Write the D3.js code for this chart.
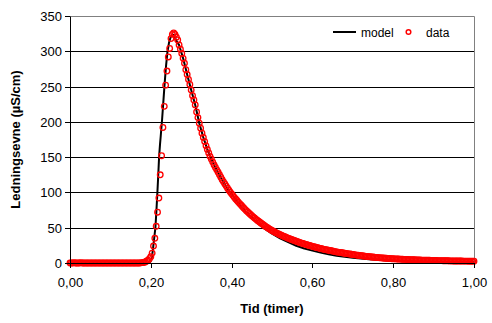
<!DOCTYPE html>
<html><head><meta charset="utf-8">
<script src="https://cdn.jsdelivr.net/npm/d3@7"></script>
<style>
body{margin:0;background:#fff}
svg{display:block}
text{font-family:"Liberation Sans",Arial,sans-serif;fill:#000}
</style>
</head><body><svg id="c" width="492" height="323"></svg>
<script>
// measured data: time in seconds, conductivity in µS/cm
const timeSec = [
0,12,24,36,48,60,72,84,96,108,
120,132,144,156,168,180,192,204,216,228,
240,252,264,276,288,300,312,324,336,348,
360,372,384,396,408,420,432,444,456,468,
480,492,504,516,528,540,552,564,576,588,
600,612,624,636,648,660,672,684,696,708,
720,732,744,756,768,780,792,804,816,828,
840,852,864,876,888,900,912,924,936,948,
960,972,984,996,1008,1020,1032,1044,1056,1068,
1080,1092,1104,1116,1128,1140,1152,1164,1176,1188,
1200,1212,1224,1236,1248,1260,1272,1284,1296,1308,
1320,1332,1344,1356,1368,1380,1392,1404,1416,1428,
1440,1452,1464,1476,1488,1500,1512,1524,1536,1548,
1560,1572,1584,1596,1608,1620,1632,1644,1656,1668,
1680,1692,1704,1716,1728,1740,1752,1764,1776,1788,
1800,1812,1824,1836,1848,1860,1872,1884,1896,1908,
1920,1932,1944,1956,1968,1980,1992,2004,2016,2028,
2040,2052,2064,2076,2088,2100,2112,2124,2136,2148,
2160,2172,2184,2196,2208,2220,2232,2244,2256,2268,
2280,2292,2304,2316,2328,2340,2352,2364,2376,2388,
2400,2412,2424,2436,2448,2460,2472,2484,2496,2508,
2520,2532,2544,2556,2568,2580,2592,2604,2616,2628,
2640,2652,2664,2676,2688,2700,2712,2724,2736,2748,
2760,2772,2784,2796,2808,2820,2832,2844,2856,2868,
2880,2892,2904,2916,2928,2940,2952,2964,2976,2988,
3000,3012,3024,3036,3048,3060,3072,3084,3096,3108,
3120,3132,3144,3156,3168,3180,3192,3204,3216,3228,
3240,3252,3264,3276,3288,3300,3312,3324,3336,3348,
3360,3372,3384,3396,3408,3420,3432,3444,3456,3468,
3480,3492,3504,3516,3528,3540,3552,3564,3576,3588,
3600];
const conductivity = [
0,0,0,0.5,0,0,0,0,0.5,0,
0,0,0,0,0,0,0,0,0,0,
0,0,0,0,0,0,0,0,0,0,
0,0,0,0,0,0,0,0,0,0,
0,0,0,0,0,0,0,0,0,0,
0,0,0,0.5,0.5,1,1.5,3,4,6,
9,14,24,35,52,72,92,125,152,192,
222,252,272,292,304,318,324,326,324,320,
316,309,303,297,290,283,274,267,260,253,
245,237,231,224,214,206,198,191,184,178,
172,166,161,156,151,147,143,139,135.5,132,
128.5,125,121.5,118,115,112,109,106,103,100.5,
98,95.5,93,90.8,88.5,86.3,84.2,82.1,80,78,
76,74.2,72.3,70.5,68.8,67,65.4,63.8,62.2,60.7,
59.2,57.7,56.3,54.9,53.5,52.2,50.9,49.6,48.4,47.2,
46,45,44,43,42,41.1,40.2,39.3,38.4,37.6,
36.8,36,35.2,34.4,33.6,32.9,32.2,31.5,30.8,30.1,
29.4,28.8,28.2,27.6,27,26.4,25.8,25.2,24.7,24.2,
23.6,23.1,22.6,22.1,21.6,21.1,20.6,20.1,19.7,19.3,
18.9,18.5,18.1,17.7,17.3,16.9,16.5,16.1,15.7,15.4,
15.1,14.8,14.5,14.2,13.9,13.6,13.3,13,12.7,12.4,
12.1,11.8,11.5,11.2,11,10.7,10.4,10.2,9.9,9.7,
9.4,9.2,9,8.8,8.6,8.4,8.2,8,7.8,7.6,
7.4,7.3,7.1,7,6.8,6.7,6.5,6.4,6.2,6.1,
6,5.9,5.8,5.7,5.6,5.5,5.4,5.3,5.2,5.1,
5,4.9,4.8,4.7,4.6,4.6,4.5,4.4,4.3,4.3,
4.2,4.1,4.1,4,3.9,3.9,3.8,3.8,3.7,3.6,
3.6,3.5,3.5,3.4,3.4,3.3,3.3,3.2,3.2,3.2,
3.1,3.1,3,3,3,2.9,2.9,2.9,2.8,2.8,
2.8,2.8,2.7,2.7,2.7,2.7,2.6,2.6,2.6,2.6,
2.6];
// model curve: time in hours, conductivity in µS/cm
const modelTime = [0,0.195,0.198,0.2,0.2023,0.205,0.208,0.2114,0.214,0.2163,0.2185,0.2205,0.2228,0.2246,0.2279,0.231,0.2337,0.2375,0.241,0.245,0.249,0.2535,0.257,0.261,0.265,
0.27,0.28,0.29,0.30,0.31,0.32,0.33,0.34,0.35,0.36,0.37,0.38,0.39,0.40,0.41,0.42,0.43,0.44,0.45,0.46,0.47,0.48,0.49,0.50,
0.52,0.54,0.56,0.58,0.60,0.62,0.64,0.66,0.68,0.70,0.72,0.74,0.76,0.78,0.80,0.85,0.90,0.95,1.00];
const modelValue = [0,0,1,3,7,18,33,50,75,100,125,150,168,180,203,228,250,278,298,312,320,324,323,318,313,
309,290,267,245,224,198,178,161,147,135,124.5,114.5,105.5,97.5,90,82.5,76,70,64.5,59,54,49.5,45.5,41.5,
35,29.5,24.5,20.5,17.5,14.7,12.3,10.4,8.8,7.4,6.3,5.3,4.5,3.8,3.3,2.3,1.6,1.2,0.9];

const xTicks = [0,0.2,0.4,0.6,0.8,1.0];
const yTicks = [0,50,100,150,200,250,300,350];
const xTitle = "Tid (timer)";
const yTitle = "Ledningsevne (µS/cm)";
const legendLabels = ["model","data"];

const svg = d3.select("#c");
const L = 70, R = 474, T = 16, B = 263;
const x = d3.scaleLinear().domain([0,1]).range([L,R]);
const y = d3.scaleLinear().domain([0,350]).range([B,T]);
const xr = x.copy().interpolate(d3.interpolateRound);
const yr = y.copy().interpolate(d3.interpolateRound);
const comma = d3.formatLocale({decimal:",",thousands:".",grouping:[3],currency:["","kr"]});

// gridlines
svg.append("g").selectAll("line").data(yTicks.filter(d=>d>0 && d<350)).join("line")
  .attr("x1",L).attr("x2",R)
  .attr("y1",d=>yr(d)+0.5).attr("y2",d=>yr(d)+0.5)
  .attr("stroke","#000").attr("stroke-width",1);
// plot frame top/right (gray)
svg.append("path")
  .attr("d",`M${L},${T+0.5}H${R+0.5}V${B}`)
  .attr("fill","none").attr("stroke","#808080");

// model line
const line = d3.line().x((d,i)=>x(modelTime[i])).y(d=>y(d));
svg.append("path").datum(modelValue).attr("d",line)
  .attr("fill","none").attr("stroke","#000").attr("stroke-width",2).attr("stroke-linejoin","round");

// data points
svg.append("g").selectAll("circle").data(conductivity).join("circle")
  .attr("cx",(d,i)=>x(timeSec[i]/3600)).attr("cy",d=>y(d)).attr("r",2.8)
  .attr("fill","none").attr("stroke","#FF0000").attr("stroke-width",1.3);

// axes
const gy = svg.append("g").attr("transform",`translate(${L},0)`)
  .call(d3.axisLeft(yr).tickValues(yTicks).tickSize(5).tickSizeOuter(0).tickPadding(3).tickFormat(d3.format("d")));
const gx = svg.append("g").attr("transform",`translate(0,${B})`)
  .call(d3.axisBottom(xr).tickValues(xTicks).tickSize(5).tickSizeOuter(0).tickPadding(10).tickFormat(comma.format(".2f")));
[gx,gy].forEach(g=>{
  g.select(".domain").attr("stroke","#000");
  g.selectAll(".tick line").attr("stroke","#000");
  g.selectAll("text").attr("font-size","13px").attr("font-family","'Liberation Sans',Arial,sans-serif").attr("fill","#000");
});

// titles
svg.append("text").attr("x",(L+R)/2).attr("y",313).attr("text-anchor","middle")
  .attr("font-size","13px").attr("font-weight","bold").text(xTitle);
svg.append("text").attr("transform",`translate(20,${(T+B)/2}) rotate(-90)`).attr("text-anchor","middle")
  .attr("font-size","13px").attr("font-weight","bold").text(yTitle);

// legend
const lg = svg.append("g");
lg.append("line").attr("x1",333).attr("x2",356).attr("y1",32).attr("y2",32).attr("stroke","#000").attr("stroke-width",2);
lg.append("text").attr("x",361).attr("y",36.5).attr("font-size","12px").text(legendLabels[0]);
lg.append("circle").attr("cx",408.5).attr("cy",32).attr("r",2.3).attr("fill","none").attr("stroke","#FF0000").attr("stroke-width",1.5);
lg.append("text").attr("x",426).attr("y",36.5).attr("font-size","12px").text(legendLabels[1]);
</script>
</body></html>
